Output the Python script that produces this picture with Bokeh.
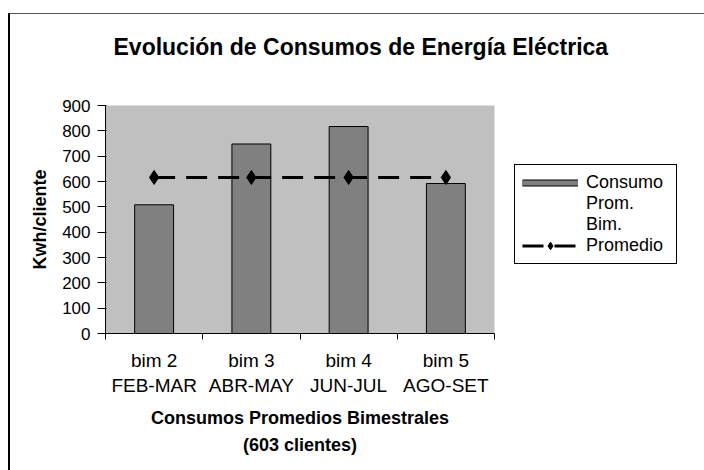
from bokeh.plotting import figure
from bokeh.models import Range1d, FixedTicker, Title, Legend, LegendItem
from bokeh.embed import file_html
from bokeh.resources import INLINE

# ---- data ----
categories = ["bim 2\nFEB-MAR", "bim 3\nABR-MAY", "bim 4\nJUN-JUL", "bim 5\nAGO-SET"]
consumo = [508, 748, 817, 592]
promedio = [616, 616, 616, 616]
legend_labels = ["Consumo", "Prom.", "Bim.", "Promedio"]
y_ticks = [0, 100, 200, 300, 400, 500, 600, 700, 800, 900]
title_text = "Evolución de Consumos de Energía Eléctrica"

FONT = "Liberation Sans"
n = len(categories)
centers = [i + 0.5 for i in range(n)]
NAN = float("nan")

p = figure(width=693, height=456, output_backend="svg", toolbar_location=None,
           x_range=Range1d(0, n), y_range=Range1d(0, 900), title_location=None,
           min_border_left=95, min_border_right=209, min_border_top=91, min_border_bottom=137,
           frame_width=389, frame_height=228)
p.styles = {"margin-left": "8px", "margin-top": "13px",
            "border-top": "1px solid #555555", "border-left": "2px solid black"}
p.background_fill_color = "#C0C0C0"
p.border_fill_color = "white"
p.outline_line_color = None
p.grid.visible = False

# title: a blank second line keeps it clear of the plot area
main_title = Title(text=title_text + "\n\u00a0", align="left", offset=8,
                   text_font=FONT, text_font_size="23px", text_font_style="bold",
                   text_color="black", text_line_height=1.56, standoff=10)
p.add_layout(main_title, "above")

# bars
bars = p.vbar(x=centers, top=consumo, width=0.4, bottom=0, fill_color="#808080",
              line_color="black", line_width=1)

# average line
avg_line = p.line(centers, promedio, line_color="black", line_width=3, line_dash="21 11")
avg_pts = p.scatter(centers, promedio, marker="diamond", size=14, fill_color="black", line_color="black")

# legend swatch helpers (not drawn in the plot, only in the legend)
sw_edge = p.line([NAN], [NAN], line_color="black", line_width=7)
sw_fill = p.line([NAN], [NAN], line_color="#808080", line_width=5)
blank = p.line([NAN], [NAN], line_alpha=0)

# axes
xa = p.xaxis[0]
xa.ticker = FixedTicker(ticks=centers, minor_ticks=list(range(n + 1)))
xa.major_label_overrides = {c: lab for c, lab in zip(centers, categories)}
xa.major_tick_line_color = None
xa.major_tick_out = 0
xa.major_tick_in = 0
xa.minor_tick_out = 6
xa.minor_tick_in = 0
xa.minor_tick_line_color = "black"
xa.axis_line_color = "black"
xa.major_label_text_font = FONT
xa.major_label_text_font_size = "19px"
xa.major_label_text_color = "black"
xa.major_label_standoff = 10
xa.axis_label = "Consumos Promedios Bimestrales\n(603 clientes)"
xa.axis_label_text_font = FONT
xa.axis_label_text_font_size = "18px"
xa.axis_label_text_font_style = "bold"
xa.axis_label_text_color = "black"
xa.axis_label_text_line_height = 1.35
xa.axis_label_standoff = 9

ya = p.yaxis[0]
ya.ticker = FixedTicker(ticks=y_ticks)
ya.minor_tick_line_color = None
ya.major_tick_out = 8
ya.major_tick_in = 1
ya.major_tick_line_color = "black"
ya.axis_line_color = "black"
ya.major_label_text_font = FONT
ya.major_label_text_font_size = "17px"
ya.major_label_text_color = "black"
ya.major_label_standoff = 7
ya.axis_label = "Kwh/cliente"
ya.axis_label_text_font = FONT
ya.axis_label_text_font_size = "18px"
ya.axis_label_text_font_style = "bold"
ya.axis_label_text_color = "black"
ya.axis_label_standoff = 9

# legend
items = [
    LegendItem(label=legend_labels[0], renderers=[sw_edge, sw_fill]),
    LegendItem(label=legend_labels[1], renderers=[blank]),
    LegendItem(label=legend_labels[2], renderers=[blank]),
    LegendItem(label=legend_labels[3], renderers=[avg_line, avg_pts]),
]
legend = Legend(items=items, location=(20, 69), padding=7, spacing=0, margin=0,
                glyph_width=56, glyph_height=19, label_height=19, label_width=83, label_standoff=8,
                label_text_font=FONT, label_text_font_size="18px", label_text_color="black",
                border_line_color="black", border_line_width=1, border_line_alpha=1,
                background_fill_color="white", background_fill_alpha=1)
p.add_layout(legend, "right")

open("out.html", "w").write(file_html(p, INLINE))
